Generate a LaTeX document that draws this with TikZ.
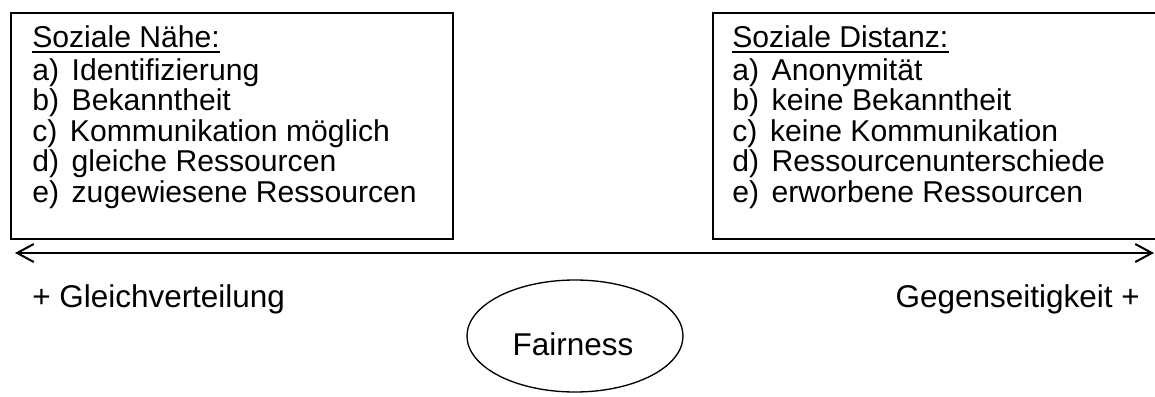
\documentclass[tikz,border=0pt]{standalone}
\usepackage{fontspec}
\setmainfont{Liberation Sans}
\usetikzlibrary{arrows.meta,shapes.geometric}
\newcommand{\itemgap}{\hspace{0.42em}}
\begin{document}
\begin{tikzpicture}[x=0.75pt,y=-0.75pt,
  boxframe/.style={draw,line width=1.5pt,anchor=north west,inner sep=0pt},
  itemtxt/.style={anchor=base west,inner sep=0pt,font=\fontsize{22.6pt}{26pt}\selectfont},
  sidelbl/.style={inner sep=0pt,font=\fontsize{23.6pt}{28pt}\selectfont},
  axisline/.style={line width=1.5pt,{Straight Barb[length=12.5pt,width=13.5pt,line width=1.5pt]}-{Straight Barb[length=12.5pt,width=13.5pt,line width=1.5pt]}}
]
\clip (0,0) rectangle (1155,396);
\fill[white] (0,0) rectangle (1155,396);

% boxes
\node[boxframe,minimum width=331.5pt,minimum height=169.5pt] (near) at (10,12) {};
\node[boxframe,minimum width=347pt,minimum height=169.5pt] (far) at (712,12) {};

% left box text
\node[itemtxt] (n0) at (32,47) {Soziale Nähe:};
\draw[line width=1.5pt] ([yshift=-3.4pt]n0.base west) -- ([yshift=-3.4pt]n0.base east);
\foreach \t [count=\i] in {a)\itemgap Identifizierung,b)\itemgap Bekanntheit,c)\itemgap Kommunikation möglich,d)\itemgap gleiche Ressourcen,e)\itemgap zugewiesene Ressourcen}
  \node[itemtxt] (n\i) at (32,{80+30.5*(\i-1)}) {\t};

% right box text
\node[itemtxt] (f0) at (732,47) {Soziale Distanz:};
\draw[line width=1.5pt] ([yshift=-3.4pt]f0.base west) -- ([yshift=-3.4pt]f0.base east);
\foreach \t [count=\i] in {a)\itemgap Anonymität,b)\itemgap keine Bekanntheit,c)\itemgap keine Kommunikation,d)\itemgap Ressourcenunterschiede,e)\itemgap erworbene Ressourcen}
  \node[itemtxt] (f\i) at (732,{80+30.5*(\i-1)}) {\t};

% axis
\coordinate (aL) at (15,253);
\coordinate (aR) at (1154,253);
\draw[axisline] (aL) -- (aR);

% side labels
\node[sidelbl,anchor=base west] (gleich) at (32,307) {+ Gleichverteilung};
\node[sidelbl,anchor=base east] (gegen) at (1140,307) {Gegenseitigkeit +};

% fairness
\node[draw,ellipse,line width=1pt,minimum width=162pt,minimum height=84pt,inner sep=0pt] (fair) at (575,336) {};
\node[sidelbl,anchor=base] (fairtxt) at (573,355) {Fairness};
\end{tikzpicture}
\end{document}
